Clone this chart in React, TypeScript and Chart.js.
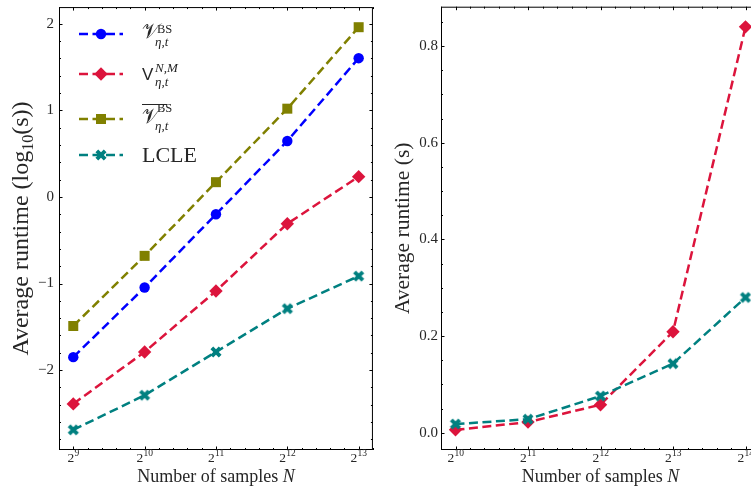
import React, { useEffect, useRef } from 'react';
import { Chart, registerables } from 'chart.js';

Chart.register(...registerables);

// ---------------- data ----------------
const samplesLeft = [512, 1024, 2048, 4096, 8192];
const bsLog10 = [-1.85, -1.045, -0.2, 0.647, 1.603];
const nmLog10 = [-2.39, -1.79, -1.086, -0.309, 0.235];
const bsBarLog10 = [-1.49, -0.68, 0.171, 1.02, 1.961];
const lcleLog10 = [-2.69, -2.29, -1.79, -1.29, -0.914];
const leftYTicks = [-2, -1, 0, 1, 2];

const samplesRight = [1024, 2048, 4096, 8192, 16384];
const nmSeconds = [0.006, 0.022, 0.058, 0.209, 0.84];
const lcleSeconds = [0.018, 0.028, 0.076, 0.143, 0.28];
const rightYTicks = [0, 0.2, 0.4, 0.6, 0.8];

const seriesNames = ['V_{η,t}^{BS}', 'V_{η,t}^{N,M}', 'bar V_{η,t}^{BS}', 'LCLE'];
const xTitleParts = ['Number of samples ', 'N'];
const leftYTitleParts = ['Average runtime (log', '10', '(s))'];
const rightYTitleParts = ['Average runtime (s)'];

// ---------------- style ----------------
const BLUE = '#0000ff';
const CRIMSON = '#dc143c';
const OLIVE = '#808000';
const TEAL = '#008080';
const TEXT = '#262626';
const SERIF = "'Liberation Serif', 'Times New Roman', serif";
const SCRIPT = "'DejaVu Serif', 'DejaVu Sans', serif";
const SANS = "'Liberation Sans', 'DejaVu Sans', sans-serif";
const DASH = [9, 4.5];
const LW = 2.5;

function makeXMarker(color: string): HTMLCanvasElement {
  const c = document.createElement('canvas');
  const dim = 14;
  c.width = dim;
  c.height = dim;
  const ctx = c.getContext('2d')!;
  const L = 5.9;
  const w = 1.95;
  const pts = [
    [-w, -L], [w, -L], [w, -w], [L, -w], [L, w], [w, w],
    [w, L], [-w, L], [-w, w], [-L, w], [-L, -w], [-w, -w],
  ];
  ctx.translate(dim / 2, dim / 2);
  ctx.rotate(Math.PI / 4);
  ctx.beginPath();
  pts.forEach(([x, y], i) => (i ? ctx.lineTo(x, y) : ctx.moveTo(x, y)));
  ctx.closePath();
  ctx.fillStyle = color;
  ctx.fill();
  return c;
}

function padRange(values: number[]) {
  const lo = Math.min(...values);
  const hi = Math.max(...values);
  const m = (hi - lo) * 0.05;
  return { min: lo - m, max: hi + m };
}

function log2Range(samples: number[]) {
  const r = padRange(samples.map((s) => Math.log2(s)));
  return { min: Math.pow(2, r.min), max: Math.pow(2, r.max), lmin: r.min, lmax: r.max };
}

type Piece = { t: string; font: string; dy: number };

function drawRich(ctx: CanvasRenderingContext2D, pieces: Piece[], cx: number, cy: number, rotate: boolean) {
  ctx.save();
  ctx.translate(cx, cy);
  if (rotate) ctx.rotate(-Math.PI / 2);
  ctx.textBaseline = 'alphabetic';
  ctx.textAlign = 'left';
  ctx.fillStyle = TEXT;
  let total = 0;
  const ws = pieces.map((p) => {
    ctx.font = p.font;
    const w = ctx.measureText(p.t).width;
    total += w;
    return w;
  });
  let x = -total / 2;
  pieces.forEach((p, i) => {
    ctx.font = p.font;
    ctx.fillText(p.t, x, p.dy);
    x += ws[i];
  });
  ctx.restore();
}

function drawMarker(ctx: CanvasRenderingContext2D, kind: string, x: number, y: number, color: string, xImg?: HTMLCanvasElement) {
  ctx.save();
  ctx.fillStyle = color;
  ctx.beginPath();
  if (kind === 'circle') {
    ctx.arc(x, y, 5.2, 0, Math.PI * 2);
    ctx.fill();
  } else if (kind === 'diamond') {
    ctx.moveTo(x, y - 6.7);
    ctx.lineTo(x + 6.7, y);
    ctx.lineTo(x, y + 6.7);
    ctx.lineTo(x - 6.7, y);
    ctx.closePath();
    ctx.fill();
  } else if (kind === 'square') {
    ctx.fillRect(x - 5, y - 5, 10, 10);
  } else if (kind === 'x' && xImg) {
    ctx.drawImage(xImg, x - xImg.width / 2, y - xImg.height / 2);
  }
  ctx.restore();
}

function drawLegend(ctx: CanvasRenderingContext2D, xImg: HTMLCanvasElement) {
  const x0 = 79;
  const x1 = 123;
  const tx = 142;
  const entries = [
    { y: 34, color: BLUE, kind: 'circle' },
    { y: 74, color: CRIMSON, kind: 'diamond' },
    { y: 119, color: OLIVE, kind: 'square' },
    { y: 155, color: TEAL, kind: 'x' },
  ];
  entries.forEach((e) => {
    ctx.save();
    ctx.strokeStyle = e.color;
    ctx.lineWidth = LW;
    ctx.setLineDash(DASH);
    ctx.beginPath();
    ctx.moveTo(x0, e.y);
    ctx.lineTo(x1, e.y);
    ctx.stroke();
    ctx.restore();
    drawMarker(ctx, e.kind, (x0 + x1) / 2, e.y, e.color, xImg);
  });
  ctx.save();
  ctx.fillStyle = TEXT;
  ctx.textBaseline = 'alphabetic';
  ctx.textAlign = 'left';
  const put = (t: string, font: string, x: number, y: number) => {
    ctx.font = font;
    ctx.fillText(t, x, y);
  };
  const main = `21px ${SCRIPT}`;
  const supR = `12.5px ${SERIF}`;
  const subI = `italic 13px ${SERIF}`;
  // entry 1
  let y = entries[0].y;
  put('\u{1D4B1}', main, tx, y + 4);
  put('BS', supR, tx + 15, y - 1);
  put('η,t', subI, tx + 13, y + 12);
  // entry 2
  y = entries[1].y;
  put('V', `17px ${SANS}`, tx, y + 6);
  put('N,M', subI, tx + 13, y - 2);
  put('η,t', subI, tx + 13, y + 12);
  // entry 3
  y = entries[2].y;
  ctx.fillRect(tx, y - 15, 25, 1);
  put('\u{1D4B1}', main, tx, y + 4);
  put('BS', supR, tx + 15, y - 7);
  put('η,t', subI, tx + 13, y + 11);
  // entry 4
  y = entries[3].y;
  put(seriesNames[3], `22px ${SERIF}`, tx, y + 7);
  ctx.restore();
}

interface PanelCfg {
  samples: number[];
  yMajors: number[];
  yMinorStep: number;
  yTitle: Piece[];
  yTitleX: number;
  legend: boolean;
  xImg: HTMLCanvasElement;
}

function panelPlugin(cfg: PanelCfg) {
  return {
    id: 'panelDecor',
    afterDraw(chart: any) {
      const ctx: CanvasRenderingContext2D = chart.ctx;
      const a = chart.chartArea;
      const sx = chart.scales.x;
      const sy = chart.scales.y;
      ctx.save();
      ctx.strokeStyle = '#000';
      ctx.lineWidth = 1;
      ctx.beginPath();
      const MAJ = 3.5;
      const MIN = 2;
      // x ticks (log2 spaced)
      const lr = log2Range(cfg.samples);
      const majorsX = cfg.samples.map((s) => Math.log2(s));
      for (let k = Math.ceil(lr.lmin * 5); k <= Math.floor(lr.lmax * 5); k++) {
        const e = k / 5;
        const isMaj = majorsX.some((m) => Math.abs(m - e) < 1e-6);
        const len = isMaj ? MAJ : MIN;
        const p = Math.round(sx.getPixelForValue(Math.pow(2, e))) + 0.5;
        ctx.moveTo(p, a.bottom);
        ctx.lineTo(p, a.bottom - len);
        ctx.moveTo(p, a.top);
        ctx.lineTo(p, a.top + len);
      }
      // y ticks
      const st = cfg.yMinorStep;
      for (let k = Math.ceil(sy.min / st - 1e-9); k <= Math.floor(sy.max / st + 1e-9); k++) {
        const v = k * st;
        const isMaj = cfg.yMajors.some((m) => Math.abs(m - v) < 1e-6);
        const len = isMaj ? MAJ : MIN;
        const p = Math.round(sy.getPixelForValue(v)) + 0.5;
        ctx.moveTo(a.left, p);
        ctx.lineTo(a.left + len, p);
        ctx.moveTo(a.right, p);
        ctx.lineTo(a.right - len, p);
      }
      ctx.stroke();
      ctx.strokeRect(a.left + 0.5, a.top + 0.5, a.right - a.left - 1, a.bottom - a.top - 1);
      ctx.restore();

      // x tick labels 2^k
      ctx.save();
      ctx.fillStyle = TEXT;
      ctx.textBaseline = 'alphabetic';
      ctx.textAlign = 'left';
      cfg.samples.forEach((s) => {
        const ex = String(Math.round(Math.log2(s)));
        ctx.font = `13.5px ${SERIF}`;
        const wb = ctx.measureText('2').width;
        ctx.font = `9.5px ${SERIF}`;
        const we = ctx.measureText(ex).width;
        const px = sx.getPixelForValue(s) - (wb + we) / 2;
        ctx.font = `13.5px ${SERIF}`;
        ctx.fillText('2', px, a.bottom + 12);
        ctx.font = `9.5px ${SERIF}`;
        ctx.fillText(ex, px + wb + 0.3, a.bottom + 6);
      });
      ctx.restore();

      // axis titles
      drawRich(
        ctx,
        [
          { t: xTitleParts[0], font: `18px ${SERIF}`, dy: 0 },
          { t: xTitleParts[1], font: `italic 18px ${SERIF}`, dy: 0 },
        ],
        (a.left + a.right) / 2,
        482,
        false
      );
      drawRich(ctx, cfg.yTitle, cfg.yTitleX, (a.top + a.bottom) / 2, true);

      if (cfg.legend) drawLegend(ctx, cfg.xImg);
    },
  };
}

function series(label: string, xs: number[], ys: number[], color: string, style: any, radius: number, order: number) {
  return {
    label,
    data: ys.map((y, i) => ({ x: xs[i], y })),
    borderColor: color,
    backgroundColor: color,
    borderWidth: LW,
    borderDash: DASH,
    pointStyle: style,
    pointRadius: radius,
    pointHoverRadius: radius,
    pointBackgroundColor: color,
    pointBorderColor: color,
    pointBorderWidth: 0,
    tension: 0,
    fill: false,
    order,
  };
}

function buildConfig(side: 'left' | 'right', xImg: HTMLCanvasElement): any {
  const samples = side === 'left' ? samplesLeft : samplesRight;
  const xr = log2Range(samples);
  let datasets: any[];
  let yr: { min: number; max: number };
  let yMajors: number[];
  let yMinorStep: number;
  let yTitle: Piece[];
  let yTitleX: number;
  let yWidth: number;
  let rightPad: number;
  let tickPad: number;
  let fmt: (v: number) => string;
  if (side === 'left') {
    datasets = [
      series(seriesNames[0], samples, bsLog10, BLUE, 'circle', 5.2, 4),
      series(seriesNames[1], samples, nmLog10, CRIMSON, 'rectRot', 6.7, 3),
      series(seriesNames[2], samples, bsBarLog10, OLIVE, 'rect', 7.07, 2),
      series(seriesNames[3], samples, lcleLog10, TEAL, xImg, 6, 1),
    ];
    yr = padRange([...bsLog10, ...nmLog10, ...bsBarLog10, ...lcleLog10]);
    yMajors = leftYTicks;
    yMinorStep = 0.2;
    yTitle = [
      { t: leftYTitleParts[0], font: `24px ${SERIF}`, dy: 0 },
      { t: leftYTitleParts[1], font: `16px ${SERIF}`, dy: 5 },
      { t: leftYTitleParts[2], font: `24px ${SERIF}`, dy: 0 },
    ];
    yTitleX = 28;
    yWidth = 59;
    rightPad = 2;
    tickPad = 5;
    fmt = (v) => (v < 0 ? '\u2212' + Math.abs(v) : String(v));
  } else {
    datasets = [
      series(seriesNames[1], samples, nmSeconds, CRIMSON, 'rectRot', 6.7, 2),
      series(seriesNames[3], samples, lcleSeconds, TEAL, xImg, 6, 1),
    ];
    yr = padRange([...nmSeconds, ...lcleSeconds]);
    yMajors = rightYTicks;
    yMinorStep = 0.05;
    yTitle = [{ t: rightYTitleParts[0], font: `21.5px ${SERIF}`, dy: 0 }];
    yTitleX = 29;
    yWidth = 61;
    rightPad = 10;
    tickPad = 3;
    fmt = (v) => v.toFixed(1);
  }
  return {
    type: 'line',
    data: { datasets },
    options: {
      responsive: false,
      animation: false,
      layout: { padding: { left: 0, top: 3, right: rightPad, bottom: 0 } },
      plugins: { legend: { display: false }, tooltip: { enabled: false } },
      events: [],
      scales: {
        x: {
          type: 'logarithmic',
          min: xr.min,
          max: xr.max,
          afterBuildTicks: (s: any) => {
            s.ticks = samples.map((v) => ({ value: v }));
          },
          ticks: { display: false },
          grid: { display: false, drawTicks: false },
          border: { display: false },
          afterFit: (s: any) => {
            s.height = 45;
            s.paddingLeft = 0;
            s.paddingRight = 0;
          },
        },
        y: {
          type: 'linear',
          min: yr.min,
          max: yr.max,
          afterBuildTicks: (s: any) => {
            s.ticks = yMajors.map((v) => ({ value: v }));
          },
          ticks: {
            callback: (v: number) => fmt(v),
            font: { family: SERIF, size: 15 },
            color: TEXT,
            padding: tickPad,
          },
          grid: { display: false, drawTicks: false },
          border: { display: false },
          afterFit: (s: any) => {
            s.width = yWidth;
            s.paddingTop = 0;
            s.paddingBottom = 0;
          },
        },
      },
    },
    plugins: [panelPlugin({ samples, yMajors, yMinorStep, yTitle, yTitleX, legend: side === 'left', xImg })],
  };
}

export default function App() {
  const leftRef = useRef<HTMLCanvasElement>(null);
  const rightRef = useRef<HTMLCanvasElement>(null);
  useEffect(() => {
    const xImg = makeXMarker(TEAL);
    const c1 = new Chart(leftRef.current!, buildConfig('left', xImg));
    const c2 = new Chart(rightRef.current!, buildConfig('right', xImg));
    return () => {
      c1.destroy();
      c2.destroy();
    };
  }, []);
  return (
    <div style={{ position: 'fixed', left: 0, top: 0, width: 751, height: 495, overflow: 'hidden', background: '#fff' }}>
      <canvas ref={leftRef} width={380} height={495} style={{ position: 'absolute', left: 0, top: 0, width: 380, height: 495 }} />
      <canvas ref={rightRef} width={390} height={495} style={{ position: 'absolute', left: 380, top: 0, width: 390, height: 495 }} />
    </div>
  );
}
